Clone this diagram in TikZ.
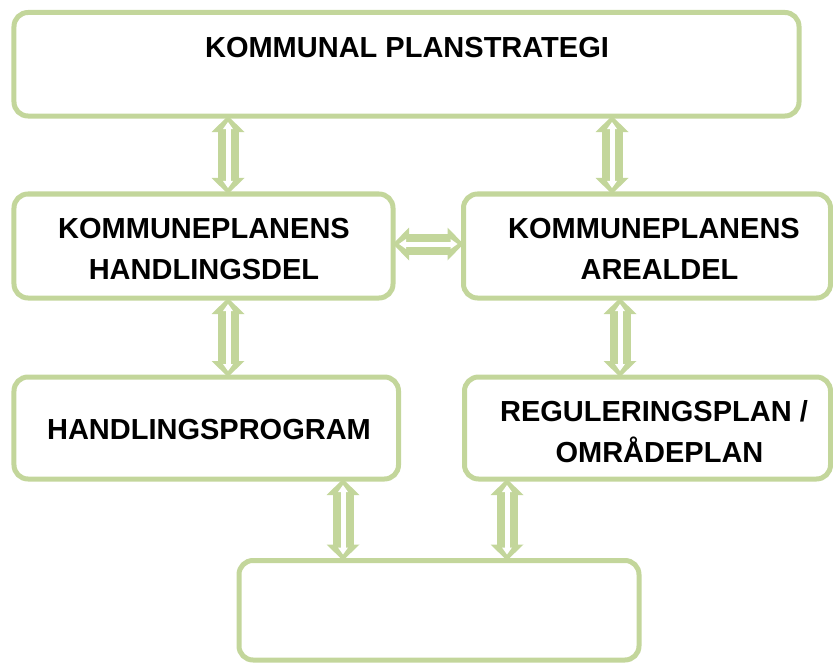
\documentclass[tikz,border=0pt]{standalone}
\usepackage{fontspec}
\setmainfont{Liberation Sans}
\usetikzlibrary{arrows.meta}
\definecolor{G}{HTML}{C3D69B}
\begin{document}
\begin{tikzpicture}[x=1bp,y=-1bp,
  box/.style={draw=G, line width=5bp, rounded corners=14bp, inner sep=0pt, outer sep=0pt},
  lbl/.style={font=\bfseries\fontsize{29bp}{41bp}\selectfont, align=center, inner sep=0pt, text=black},
  conn/.style={draw=G, line width=21bp,
    {Triangle[width=33bp,length=16bp,line width=0pt]}-{Triangle[width=33bp,length=16bp,line width=0pt]}},
  conninner/.style={draw=white, line width=5bp, shorten <=6bp, shorten >=6bp,
    {Triangle[width=10bp,length=7bp,line width=0pt]}-{Triangle[width=10bp,length=7bp,line width=0pt]}}
]
\useasboundingbox (0,0) rectangle (833,663);

% boxes
\node[box, minimum width=785bp, minimum height=103.5bp] (top) at (406.5,64.25) {};
\node[box, minimum width=379bp, minimum height=104bp] (hd) at (203.5,246) {};
\node[box, minimum width=367bp, minimum height=104bp] (ad) at (647,246) {};
\node[box, minimum width=384.5bp, minimum height=102bp] (hp) at (206.25,428) {};
\node[box, minimum width=366bp, minimum height=102bp] (rp) at (647.5,428) {};
\node[box, minimum width=400bp, minimum height=99.5bp] (bot) at (439,610.25) {};

% labels
\node[lbl] (ttop) at (407,48) {KOMMUNAL PLANSTRATEGI};
\node[lbl] (thd) at (204,249) {KOMMUNEPLANENS\\HANDLINGSDEL};
\node[lbl] (tad) at (654,249) {KOMMUNEPLANENS\\\hspace*{11bp}AREALDEL};
\node[lbl] (thp) at (209,430) {HANDLINGSPROGRAM};
\node[lbl] (trp) at (654,432) {REGULERINGSPLAN /\\\hspace*{11bp}OMRÅDEPLAN};

% guide coordinates
\coordinate (xa) at (228,0);
\coordinate (xb) at (612,0);
\coordinate (xc) at (620,0);
\coordinate (xd) at (343,0);
\coordinate (xe) at (507,0);
\coordinate (yh) at (0,244);

% connectors
\foreach \s in {conn,conninner}{
  \draw[\s] (top.south -| xa) -- (hd.north -| xa);
  \draw[\s] (top.south -| xb) -- (ad.north -| xb);
  \draw[\s] (hd.east |- yh) -- (ad.west |- yh);
  \draw[\s] (hd.south -| xa) -- (hp.north -| xa);
  \draw[\s] (ad.south -| xc) -- (rp.north -| xc);
  \draw[\s] (hp.south -| xd) -- (bot.north -| xd);
  \draw[\s] (rp.south -| xe) -- (bot.north -| xe);
}
\end{tikzpicture}
\end{document}
